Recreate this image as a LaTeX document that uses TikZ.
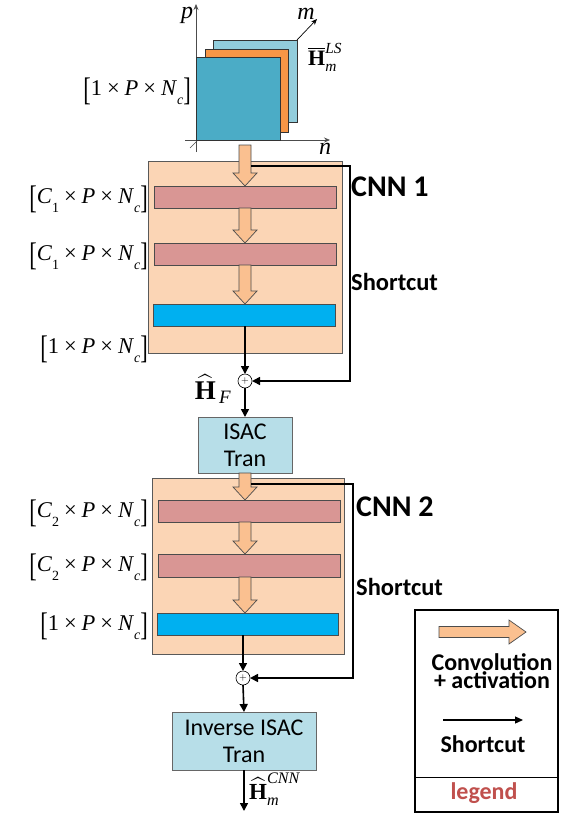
\RequirePackage{fix-cm}
\documentclass[tikz,border=0pt]{standalone}
\usepackage{amsmath}
\usepackage{graphicx}
\usepackage[no-math]{fontspec}
\setmainfont{Carlito}
\newfontfamily\tms{Liberation Serif}
\usetikzlibrary{arrows.meta,calc}
\definecolor{peach}{HTML}{FBD5B5}
\definecolor{featpink}{HTML}{D99694}
\definecolor{featblue}{HTML}{00B0F0}
\definecolor{convfill}{HTML}{FAC090}
\definecolor{isacfill}{HTML}{B7DEE8}
\definecolor{frontsq}{HTML}{4BACC6}
\definecolor{midsq}{HTML}{F79646}
\definecolor{backsq}{HTML}{92CDDC}
\definecolor{legendred}{HTML}{C0504D}
\newcommand\fsz[1]{\fontsize{#1}{#1}\selectfont}
\newcommand\bbr[1]{\raisebox{-0.22em}{\scalebox{1}[1.45]{#1}}}
\newcommand\tsub[1]{\raisebox{-0.42em}{\fontsize{14}{14}\selectfont #1}}
\newcommand\tx{\hspace{0.22em}×\hspace{0.22em}}
\newcommand\dimlab[1]{{\tms\bbr{[}#1\tx\textit{P}\tx\textit{N}\tsub{\textit{c}}\bbr{]}}}
\newcommand\tH{\hbox{\tms\bfseries H}}
\newcommand\ti[1]{\text{\tms\itshape #1}}
\begin{document}
\begin{tikzpicture}[x=1pt,y=-1pt,
  cnnbox/.style={draw=black!65, fill=peach, line width=0.8pt, inner sep=0pt, outer sep=0pt},
  featbar/.style={draw=black!70, fill=featpink, line width=0.8pt, inner sep=0pt, outer sep=0pt, minimum width=182pt, minimum height=22pt},
  outbar/.style={featbar, fill=featblue},
  sqbox/.style={draw=black!80, line width=0.7pt, inner sep=0pt, outer sep=0pt},
  procbox/.style={draw=black!60, fill=isacfill, line width=0.8pt, inner sep=0pt, outer sep=0pt, align=center, font=\fontsize{24}{27}\selectfont},
  sumnode/.style={circle, draw=black, fill=white, line width=0.6pt, minimum size=14pt, inner sep=0pt, outer sep=0pt, font=\fsz{10}},
  convarr/.style={draw=black!70, fill=convfill, line width=0.7pt,
    to path={let \p1=(\tikztostart), \p2=(\tikztotarget) in
      (\x1-6pt,\y1) -- (\x1+6pt,\y1) -- (\x1+6pt,\y2+13pt) -- (\x1+12pt,\y2+13pt)
      -- (\x1,\y2) -- (\x1-12pt,\y2+13pt) -- (\x1-6pt,\y2+13pt) -- cycle}},
  sc/.style={line width=1.6pt, -{Triangle[length=8pt,width=8pt]}},
  axisline/.style={draw=black!70, line width=0.7pt},
  dimlabel/.style={anchor=east, inner sep=0pt, font=\fsz{22.5}},
  mathlab/.style={inner sep=0pt, font=\fsz{22}},
  titlelabel/.style={anchor=west, inner sep=0pt, font=\fsz{30}\bfseries},
  sclabel/.style={anchor=west, inner sep=0pt, font=\fsz{24.5}\bfseries},
  legtext/.style={inner sep=0pt, font=\fsz{24}\bfseries, align=center}
]
\useasboundingbox (0,0) rectangle (566,816);

% ---------- input tensor ----------
\draw[axisline, -{Stealth[length=6pt,width=5pt]}] (196,152) -- (196,4);
\draw[axisline, -{Stealth[length=6pt,width=5pt]}] (185,140) -- (330,140);
\draw[axisline] (190,148) -- (197,141);
\node[sqbox, fill=backsq, minimum width=84pt, minimum height=82pt] (sqback) at (255,81) {};
\node[sqbox, fill=midsq, minimum width=83pt, minimum height=83pt] (sqmid) at (246.5,90.5) {};
\node[sqbox, fill=frontsq, minimum width=84pt, minimum height=83pt] (sqfront) at (238,98.5) {};
\draw[line width=0.7pt, -{Stealth[length=6pt,width=5pt]}] (sqback.north east) -- (317,19);
\node[mathlab, font=\fsz{24}\tms\itshape] (plab) at (187,15) {p};
\node[mathlab, font=\fsz{24}\tms\itshape] (mlab) at (306,14) {m};
\node[mathlab, font=\fsz{24}\tms\itshape] (nlab) at (325,149) {n};
\node[mathlab, anchor=west] (hls) at (308,57) {$\overline{\tH}_{\ti{m}}^{\ti{LS}}$};
\node[dimlabel] (lin) at (191,91) {\dimlab{1}};

% ---------- CNN 1 ----------
\node[cnnbox, minimum width=194pt, minimum height=192pt] (cnn1) at (245,257) {};
\node[featbar] (c1a) at (245,197) {};
\node[featbar] (c1b) at (245,254) {};
\node[outbar] (c1o) at (244,315) {};
\coordinate (a1s) at (245,145);
\path[convarr] (a1s) to (a1s |- c1a.north);
\path[convarr] (a1s |- c1a.south) to (a1s |- c1b.north);
\path[convarr] (a1s |- c1b.south) to (a1s |- c1o.north);
\node[dimlabel] (l1a) at (148,199) {\dimlab{\textit{C}\tsub{1}}};
\node[dimlabel] (l1b) at (148,256) {\dimlab{\textit{C}\tsub{1}}};
\node[dimlabel] (l1o) at (148,349) {\dimlab{1}};
\node[titlelabel] (t1) at (351,187) {CNN 1};
\node[sclabel] (sct1) at (351,282) {Shortcut};

\node[sumnode] (s1) at (245,381) {$+$};
\coordinate (sc1) at (251,166);
\coordinate (r1) at (350,260);
\draw[sc] (sc1) -| (r1) |- (s1.east);
\draw[sc] (s1 |- c1o.south) -- (s1.north);
\node[mathlab, font=\fsz{27}] (hf) at (213,389) {$\widehat{\tH}_{\,\ti{F}}$};

\node[procbox, minimum width=94pt, minimum height=56pt] (isac) at (245,445) {ISAC\\Tran};
\draw[sc] (s1.south) -- (isac.north);

% ---------- CNN 2 ----------
\node[cnnbox, minimum width=192pt, minimum height=176pt] (cnn2) at (248,566) {};
\node[featbar] (c2a) at (249,511) {};
\node[featbar, minimum height=23pt] (c2b) at (249,565.5) {};
\node[outbar, minimum width=181pt] (c2o) at (247.5,624) {};
\path[convarr] (isac.south) to (isac.south |- c2a.north);
\path[convarr] (isac.south |- c2a.south) to (isac.south |- c2b.north);
\path[convarr] (isac.south |- c2b.south) to (isac.south |- c2o.north);
\node[dimlabel] (l2a) at (148,513) {\dimlab{\textit{C}\tsub{2}}};
\node[dimlabel] (l2b) at (148,567) {\dimlab{\textit{C}\tsub{2}}};
\node[dimlabel] (l2o) at (148,626) {\dimlab{1}};
\node[titlelabel] (t2) at (356,507) {CNN 2};
\node[sclabel] (sct2) at (356,587) {Shortcut};

\node[sumnode] (s2) at (243,678) {$+$};
\coordinate (sc2) at (251,484);
\coordinate (r2) at (353,580);
\draw[sc] (sc2) -| (r2) |- (s2.east);
\draw[sc] (s2 |- c2o.south) -- (s2.north);

\node[procbox, minimum width=144pt, minimum height=58pt] (inv) at (244,741) {Inverse ISAC\\Tran};
\draw[sc] (s2.south) -- (inv.north);
\coordinate (outend) at (244,811);
\draw[sc] (inv.south) -- (outend);
\node[mathlab, font=\fsz{23}, anchor=west] (hcnn) at (249,789) {$\widehat{\tH}_{\ti{m}}^{\ti{CNN}}$};

% ---------- legend ----------
\node[draw=black, line width=1.4pt, minimum width=143pt, minimum height=202pt, inner sep=0pt] (leg) at (486.5,711) {};
\draw[line width=1pt] (leg.west |- 0,777) -- (leg.east |- 0,777);
\draw[draw=black!70, fill=convfill, line width=0.7pt]
  (439,626.5) -- (509,626.5) -- (509,620) -- (526,632) -- (509,644) -- (509,637.5) -- (439,637.5) -- cycle;
\node[legtext] (legconv) at (492,671) {Convolution\\[-6pt]+ activation};
\draw[line width=1.2pt, -{Triangle[length=8pt,width=7pt]}] (443,720) -- (523,720);
\node[legtext] (legsc) at (483,744) {Shortcut};
\node[legtext, text=legendred] (legname) at (484,793) {legend};
\end{tikzpicture}
\end{document}
